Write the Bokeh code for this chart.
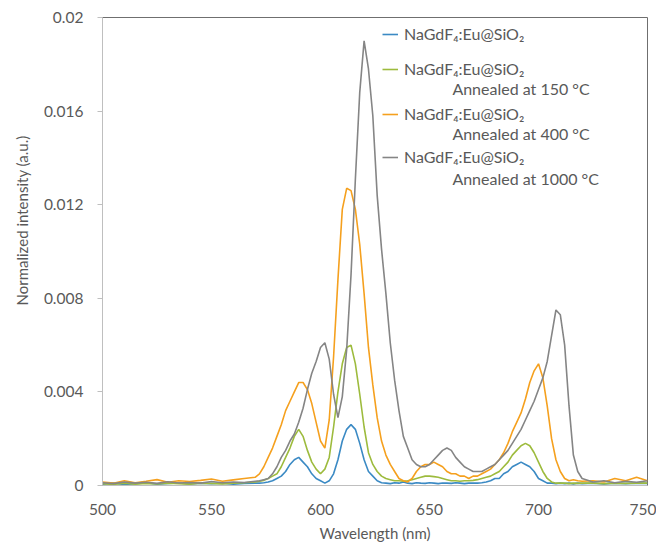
from bokeh.plotting import figure
from bokeh.models import FixedTicker, Label, Legend, LegendItem, Title
from bokeh.embed import file_html
from bokeh.resources import INLINE

# ---- data ----
wavelength = [500, 505, 510, 515, 520, 525, 530, 535, 540, 545, 550, 555, 560, 565, 570,
              572, 574, 576, 578, 580, 582, 584, 586, 588, 590,
              592, 594, 596, 598, 600, 602, 604, 606, 608, 610,
              612, 614, 616, 618, 620, 622, 624, 626, 628, 630,
              632, 634, 636, 638, 640, 642, 644, 646, 648, 650,
              652, 654, 656, 658, 660, 662, 664, 666, 668, 670,
              672, 674, 676, 678, 680, 682, 684, 686, 688, 690,
              692, 694, 696, 698, 700, 702, 704, 706, 708, 710,
              712, 714, 716, 718, 720,
              725, 730, 735, 740, 745, 750]

as_made = [0.00006, 0.0001, 0.00005, 0.00008, 0.00012, 0.00006, 0.00009, 0.00011, 0.00007, 0.0001, 0.00008, 0.0001, 0.00006, 0.00009, 0.0001,
           0.0001, 0.00012, 0.00015, 0.0002, 0.0003, 0.0004, 0.0006, 0.0009, 0.0011, 0.0012,
           0.001, 0.0008, 0.0005, 0.0003, 0.0002, 0.0001, 0.0002, 0.0005, 0.0011, 0.0019,
           0.0024, 0.0026, 0.0024, 0.0018, 0.0011, 0.0006, 0.0004, 0.0002, 0.00012, 0.0001,
           0.00008, 0.00012, 0.0001, 0.00015, 0.0001, 0.00008, 0.00012, 0.0001, 0.00009, 0.00012,
           0.0001, 0.00008, 0.00011, 0.0001, 0.00009, 0.00012, 0.0001, 0.00008, 0.0001, 0.00011,
           0.0001, 0.00012, 0.00015, 0.0002, 0.0003, 0.0003, 0.0005, 0.0006, 0.0008, 0.0009,
           0.001, 0.0009, 0.0008, 0.0006, 0.0003, 0.0002, 0.0001, 0.0001, 0.00008, 0.0001,
           0.00008, 0.0001, 0.00007, 0.0001, 0.00008,
           0.0001, 0.00007, 0.0001, 0.00008, 0.0001, 0.00009]

annealed_150 = [0.00008, 0.00005, 0.0001, 0.00006, 0.00009, 0.00007, 0.0001, 0.00008, 0.00006, 0.0001, 0.00009, 0.00007, 0.0001, 0.00012, 0.00015,
                0.00018, 0.00022, 0.0003, 0.0004, 0.0005, 0.0008, 0.0012, 0.0016, 0.0021, 0.0024,
                0.0021, 0.0015, 0.001, 0.0007, 0.0005, 0.0007, 0.0012, 0.0025, 0.004, 0.0052,
                0.0059, 0.006, 0.0052, 0.0039, 0.0025, 0.0014, 0.0009, 0.0006, 0.0004, 0.0003,
                0.00025, 0.0002, 0.0002, 0.00018, 0.0002, 0.00025, 0.0003, 0.00035, 0.0004, 0.0004,
                0.00038, 0.00035, 0.0003, 0.00025, 0.0002, 0.0002, 0.00018, 0.0002, 0.0002, 0.00022,
                0.00025, 0.0003, 0.00035, 0.0004, 0.0005, 0.0006, 0.0008, 0.001, 0.0013, 0.0015,
                0.0017, 0.0018, 0.0017, 0.0014, 0.001, 0.0006, 0.0003, 0.00015, 0.0001, 0.0001,
                0.0001, 0.00008, 0.0001, 0.00009, 0.0001,
                0.0001, 0.00008, 0.0001, 0.00009, 0.0001, 0.0001]

annealed_400 = [0.00015, 0.0001, 0.0002, 0.00012, 0.00018, 0.00025, 0.00014, 0.0002, 0.00017, 0.00022, 0.00028, 0.00018, 0.00024, 0.0003, 0.00035,
                0.0005, 0.0008, 0.0012, 0.0016, 0.0021, 0.0026, 0.0032, 0.0036, 0.004, 0.0044,
                0.0044, 0.0041, 0.0035, 0.0027, 0.0019, 0.0016, 0.0028, 0.0055, 0.0088, 0.0118,
                0.0127, 0.0126, 0.0118, 0.0103, 0.0082, 0.0059, 0.0043, 0.0029, 0.0019, 0.0013,
                0.0009, 0.0006, 0.0003, 0.0002, 0.00015, 0.0003, 0.0006, 0.0008, 0.0009, 0.0009,
                0.001, 0.0009, 0.0008, 0.0006, 0.0005, 0.0005, 0.0004, 0.0004, 0.0003, 0.0004,
                0.0004, 0.0005, 0.0006, 0.0007, 0.0009, 0.0011, 0.0014, 0.0018, 0.0023, 0.0027,
                0.0031, 0.0037, 0.0044, 0.0049, 0.0052, 0.0046, 0.0034, 0.002, 0.0011, 0.0006,
                0.0003, 0.0002, 0.00025, 0.0002, 0.00018,
                0.0002, 0.00015, 0.0003, 0.0002, 0.00035, 0.0002]

annealed_1000 = [0.00012, 0.00008, 0.00015, 0.0001, 0.00014, 0.00009, 0.00016, 0.00011, 0.00013, 0.0001, 0.00017, 0.00012, 0.00015, 0.00013, 0.00018,
                 0.0002, 0.00025, 0.0003, 0.0005, 0.0008, 0.0012, 0.0015, 0.0019, 0.0022, 0.0027,
                 0.0033, 0.0041, 0.0048, 0.0053, 0.0059, 0.0061, 0.0054, 0.0039, 0.0029, 0.0038,
                 0.0058, 0.009, 0.0131, 0.0168, 0.019, 0.0178, 0.0158, 0.0124, 0.0101, 0.0082,
                 0.0061, 0.0045, 0.0032, 0.0021, 0.0016, 0.0011, 0.0009, 0.0008, 0.0008, 0.0009,
                 0.0011, 0.0013, 0.0015, 0.0016, 0.0015, 0.0012, 0.001, 0.0008, 0.0007, 0.0006,
                 0.0006, 0.0006, 0.0007, 0.0008, 0.0009, 0.0011, 0.0013, 0.0015, 0.0018, 0.0021,
                 0.0024, 0.0028, 0.0032, 0.0036, 0.0041, 0.0046, 0.0053, 0.0064, 0.0075, 0.0073,
                 0.006, 0.0034, 0.0013, 0.0006, 0.0003,
                 0.00015, 0.0002, 0.00012, 0.00018, 0.00014, 0.0002]

series_names = ["NaGdF\u2084:Eu@SiO\u2082"] * 4
series_notes = ["", "Annealed at 150 \u00b0C", "Annealed at 400 \u00b0C", "Annealed at 1000 \u00b0C"]
x_ticks = [500, 550, 600, 650, 700, 750]
y_ticks = [0, 0.004, 0.008, 0.012, 0.016, 0.02]
y_tick_labels = ["0", "0.004", "0.008", "0.012", "0.016", "0.02"]
y_title = "Normalized intensity (a.u.)"
x_title = "Wavelength (nm)"

# ---- styling ----
colors = ["#3b8ac4", "#9dbb3d", "#f5a01e", "#858585"]
FONT = "Lato"
TXT = "#595959"

p = figure(frame_width=545, frame_height=468, x_range=(500, 750), y_range=(0, 0.02),
           output_backend="svg", toolbar_location=None,
           min_border_left=102, min_border_right=9, min_border_top=17, min_border_bottom=55)
p.background_fill_color = "white"
p.border_fill_color = "white"
p.grid.visible = False
p.outline_line_color = "#6f6f6f"
p.outline_line_width = 1

all_series = [as_made, annealed_150, annealed_400, annealed_1000]
renderers = []
for ys, c in zip(all_series, colors):
    r = p.line(wavelength, ys, line_color=c, line_width=1.6)
    renderers.append(r)

# axes
p.xaxis.ticker = FixedTicker(ticks=x_ticks)
p.yaxis.ticker = FixedTicker(ticks=y_ticks)
p.yaxis.major_label_overrides = {t: s for t, s in zip(y_ticks, y_tick_labels)}
for ax in (p.xaxis[0], p.yaxis[0]):
    ax.axis_line_color = "#bfbfbf"
    ax.major_tick_line_color = "#bfbfbf"
    ax.minor_tick_line_color = None
    ax.major_label_text_font = FONT
    ax.major_label_text_font_size = "15.5px"
    ax.major_label_text_color = TXT
    ax.axis_label_text_font = FONT
    ax.axis_label_text_font_size = "15px"
    ax.axis_label_text_color = TXT
    ax.axis_label_text_font_style = "normal"
p.xaxis.major_tick_out = 0
p.xaxis.major_tick_in = 0
p.xaxis.major_label_standoff = 18
p.xaxis.axis_label = x_title
p.xaxis.axis_label_standoff = 6
p.yaxis.major_tick_out = 5
p.yaxis.major_tick_in = 0
p.yaxis.major_label_standoff = 14

# y title placed like the reference (its lower end well above the x axis)
p.add_layout(Title(text=y_title, align="left", offset=180, standoff=19,
                   text_font=FONT, text_font_size="15px", text_color=TXT,
                   text_font_style="normal"), "left")

# legend: one small legend per series so the spacing can follow the reference
legend_tops = [450, 415, 370, 327]  # frame pixels from bottom (entry centre)
for r, name, top in zip(renderers, series_names, legend_tops):
    lg = Legend(items=[LegendItem(label=name, renderers=[r])],
                location=(280, top - 8), padding=0, margin=0, spacing=0,
                glyph_width=16, glyph_height=16, label_height=16, label_standoff=6,
                label_text_font=FONT, label_text_font_size="16px", label_text_color=TXT,
                border_line_color=None, background_fill_alpha=0)
    p.add_layout(lg)

note_y = [None, 0.016966, 0.015043, 0.01312]
for note, yv in zip(series_notes, note_y):
    if note:
        p.add_layout(Label(x=660.5, y=yv, text=note, text_font=FONT, text_font_size="16px",
                           text_color=TXT, text_baseline="middle", text_align="left"))

open("out.html", "w").write(file_html(p, INLINE))
